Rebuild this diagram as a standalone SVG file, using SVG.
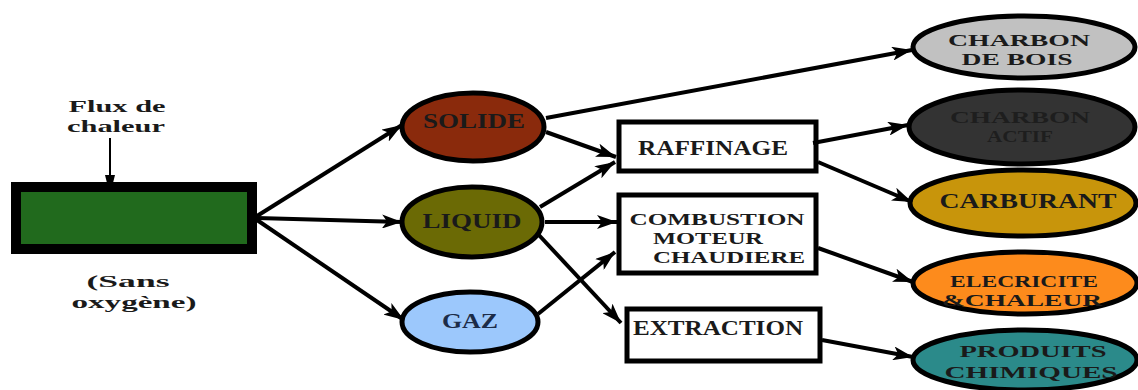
<svg xmlns="http://www.w3.org/2000/svg" width="1138" height="390" viewBox="0 0 1138 390">
<style>
.t{font-family:"Liberation Serif","Times New Roman",serif;font-weight:bold;font-size:20px;fill:#1a1a1a;text-anchor:middle}
.m{font-size:17px}
.e{stroke:#000;stroke-width:5}
.b{fill:#fff;stroke:#000;stroke-width:5}
.c line{stroke:#000;stroke-width:4;marker-end:url(#ah)}
</style>
<defs>
<marker id="ah" markerUnits="userSpaceOnUse" markerWidth="22" markerHeight="14" refX="20" refY="7" orient="auto">
<path d="M0,0 L20,7 L0,14 L5,7 Z" fill="#000"/>
</marker>
<marker id="sh" markerUnits="userSpaceOnUse" markerWidth="10" markerHeight="10" refX="8" refY="5" orient="auto">
<path d="M0,0 L8,2 L8,8 L0,10 Z" fill="#000"/>
</marker>
</defs>
<g id="reactor">
<rect x="16" y="187" width="236" height="62" fill="#216a1d" stroke="#000" stroke-width="10"/>
<text class="t m" x="117" y="112" textLength="97" lengthAdjust="spacingAndGlyphs">Flux de</text>
<text class="t m" x="116" y="132" textLength="98" lengthAdjust="spacingAndGlyphs">chaleur</text>
<text class="t m" x="128" y="287" textLength="83" lengthAdjust="spacingAndGlyphs">(Sans</text>
<text class="t m" x="134" y="308" textLength="125" lengthAdjust="spacingAndGlyphs">oxygène)</text>
</g>
<g id="solide"><ellipse class="e" cx="473" cy="127" rx="71" ry="34" fill="#8a2a0c"/><text class="t" x="474" y="128" textLength="102" lengthAdjust="spacingAndGlyphs">SOLIDE</text></g>
<g id="liquid"><ellipse class="e" cx="472" cy="222" rx="70" ry="35" fill="#6b6a05"/><text class="t" x="472" y="228" textLength="99" lengthAdjust="spacingAndGlyphs">LIQUID</text></g>
<g id="gaz"><ellipse class="e" cx="470" cy="322" rx="68" ry="30" fill="#9cc8fc"/><text class="t" x="470" y="328" textLength="56" lengthAdjust="spacingAndGlyphs" style="fill:#1c2c48">GAZ</text></g>
<g id="raffinage"><rect class="b" x="619" y="122" width="197" height="49"/><text class="t" x="713" y="155" textLength="150" lengthAdjust="spacingAndGlyphs">RAFFINAGE</text></g>
<g id="combustion"><rect class="b" x="619" y="195" width="197" height="78"/>
<text class="t m" x="717" y="225" textLength="175" lengthAdjust="spacingAndGlyphs">COMBUSTION</text>
<text class="t m" x="708" y="244" textLength="110" lengthAdjust="spacingAndGlyphs">MOTEUR</text>
<text class="t m" x="729" y="263" textLength="152" lengthAdjust="spacingAndGlyphs">CHAUDIERE</text></g>
<g id="extraction"><rect class="b" x="627" y="309" width="193" height="52"/><text class="t" x="718" y="335" textLength="170" lengthAdjust="spacingAndGlyphs">EXTRACTION</text></g>
<g id="charbon-bois"><ellipse class="e" cx="1024" cy="47" rx="111" ry="31" fill="#c1c1c1"/>
<text class="t m" x="1019" y="46" textLength="142" lengthAdjust="spacingAndGlyphs">CHARBON</text>
<text class="t m" x="1017" y="65" textLength="111" lengthAdjust="spacingAndGlyphs">DE BOIS</text></g>
<g id="charbon-actif"><ellipse class="e" cx="1022" cy="127" rx="113" ry="37" fill="#333333"/>
<text class="t m" x="1020" y="123" textLength="140" lengthAdjust="spacingAndGlyphs" style="fill:#1e1e1e">CHARBON</text>
<text class="t m" x="1020" y="142" textLength="66" lengthAdjust="spacingAndGlyphs" style="fill:#1e1e1e">ACTIF</text></g>
<g id="carburant"><ellipse class="e" cx="1023" cy="203" rx="113" ry="33" fill="#c8950b"/>
<text class="t" x="1028" y="208" textLength="177" lengthAdjust="spacingAndGlyphs">CARBURANT</text></g>
<g id="electricite"><ellipse class="e" cx="1025" cy="283" rx="112" ry="31" fill="#fd8b1c"/>
<text class="t m" x="1024" y="287" textLength="148" lengthAdjust="spacingAndGlyphs">ELECRICITE</text>
<text class="t m" x="1022" y="306" textLength="160" lengthAdjust="spacingAndGlyphs">&amp;CHALEUR</text></g>
<g id="produits"><ellipse class="e" cx="1025" cy="360" rx="112" ry="30" fill="#2b8a8a"/>
<text class="t m" x="1033" y="357" textLength="147" lengthAdjust="spacingAndGlyphs">PRODUITS</text>
<text class="t m" x="1031" y="378" textLength="173" lengthAdjust="spacingAndGlyphs">CHIMIQUES</text></g>
<g id="connectors" class="c">
<line x1="110" y1="138" x2="110" y2="183" style="stroke-width:2;marker-end:url(#sh)"/>
<line x1="257" y1="216" x2="402" y2="125"/>
<line x1="257" y1="218" x2="402" y2="222"/>
<line x1="257" y1="220" x2="404" y2="320"/>
<line x1="546" y1="118" x2="912" y2="50"/>
<line x1="546" y1="132" x2="616" y2="157"/>
<line x1="540" y1="207" x2="615" y2="162"/>
<line x1="545" y1="222" x2="617" y2="222"/>
<line x1="537" y1="233" x2="621" y2="323"/>
<line x1="538" y1="314" x2="615" y2="252"/>
<line x1="813" y1="143" x2="908" y2="125"/>
<line x1="818" y1="162" x2="912" y2="202"/>
<line x1="818" y1="248" x2="913" y2="282"/>
<line x1="822" y1="340" x2="913" y2="357"/>
</g>
</svg>
